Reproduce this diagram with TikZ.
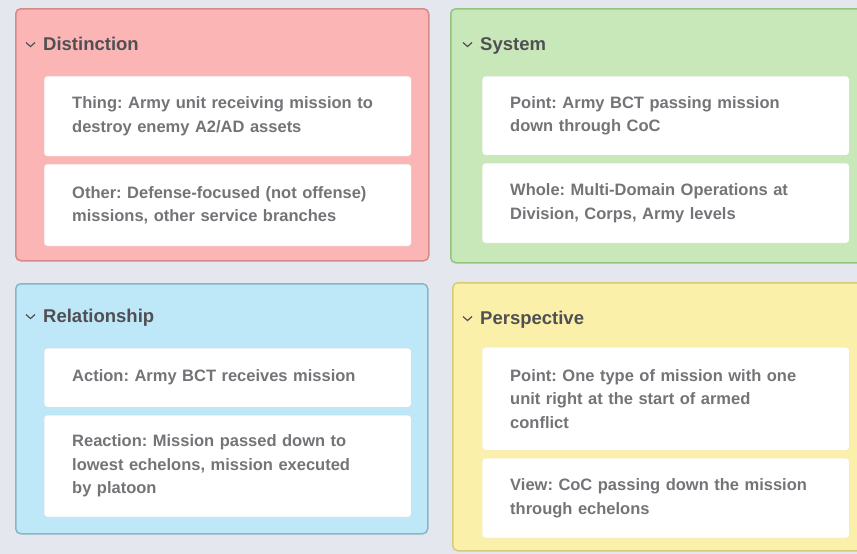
\documentclass[tikz,border=0pt]{standalone}
\usepackage{fontspec}
\setmainfont{Liberation Sans}
\usetikzlibrary{positioning}
\frenchspacing

\definecolor{bg}{HTML}{E5E7EE}
\definecolor{redfill}{HTML}{FBB5B5}
\definecolor{redline}{HTML}{D68A8C}
\definecolor{greenfill}{HTML}{C9E8B9}
\definecolor{greenline}{HTML}{92C480}
\definecolor{bluefill}{HTML}{BEE7F7}
\definecolor{blueline}{HTML}{86B6C8}
\definecolor{yellowfill}{HTML}{FBF0A9}
\definecolor{yellowline}{HTML}{D7CA78}
\definecolor{headgray}{HTML}{505054}
\definecolor{itemgray}{HTML}{747478}

\begin{document}
\begin{tikzpicture}[x=1pt,y=-1pt,
  panel/.style={anchor=north west, fill=#1fill, draw=#1line, line width=1.5pt, rounded corners=5pt},
  head/.style={anchor=base west, inner sep=0pt, text=headgray, font=\fontsize{18.5}{20}\selectfont\bfseries},
  item/.style={anchor=north west, fill=white, draw=#1line!45, rounded corners=3pt,
    inner xsep=28pt, inner ysep=0pt, text width=311pt, align=left, text=itemgray,
    font=\fontsize{16.5}{23.5}\selectfont\bfseries},
  chev/.style={draw=headgray, line width=1.2pt}]
  \useasboundingbox (0,0) rectangle (857,554);
  \clip (0,0) rectangle (857,554);
  \fill[bg] (0,0) rectangle (857,554);

  % panels
  \node[panel=red, minimum width=413pt, minimum height=252pt] (dist) at (15,8) {};
  \node[panel=green, minimum width=420pt, minimum height=254pt] (sys) at (450,8) {};
  \node[panel=blue, minimum width=412pt, minimum height=250pt] (rel) at (15,283) {};
  \node[panel=yellow, minimum width=420pt, minimum height=268pt] (persp) at (452,282) {};

  \node[head] (dist-h) at (43,50) {Distinction};
  \node[head] (sys-h) at (480,50) {System};
  \node[head] (rel-h) at (43,322) {Relationship};
  \node[head] (persp-h) at (480,324) {Perspective};
  \foreach \h in {dist-h,sys-h,rel-h,persp-h}
    \draw[chev] ([shift={(-17,-7.5)}]\h.base west) -- ++(4.5,4) -- ++(4.5,-4);

  % items
  \node[item=red, minimum height=80pt] (thing) at (44,76) {Thing: Army unit receiving mission to\\destroy enemy A2/AD assets};
  \node[item=red, minimum height=82pt, below=7.5pt of thing] (other) {Other: Defense-focused (not offense)\\missions, other service branches};

  \node[item=green, minimum height=79pt] (point) at (482,76) {Point: Army BCT passing mission\\down through CoC};
  \node[item=green, minimum height=80pt, below=7.5pt of point] (whole) {Whole: Multi-Domain Operations at\\Division, Corps, Army levels};

  \node[item=blue, minimum height=59pt] (action) at (44,348) {Action: Army BCT receives mission};
  \node[item=blue, minimum height=102pt, below=7.5pt of action] (reaction) {Reaction: Mission passed down to\\lowest echelons, mission executed\\by platoon};

  \node[item=yellow, minimum height=103pt] (ppoint) at (482,347) {Point: One type of mission with one\\unit right at the start of armed\\conflict};
  \node[item=yellow, minimum height=80pt, below=7.5pt of ppoint] (view) {View: CoC passing down the mission\\through echelons};
\end{tikzpicture}
\end{document}
